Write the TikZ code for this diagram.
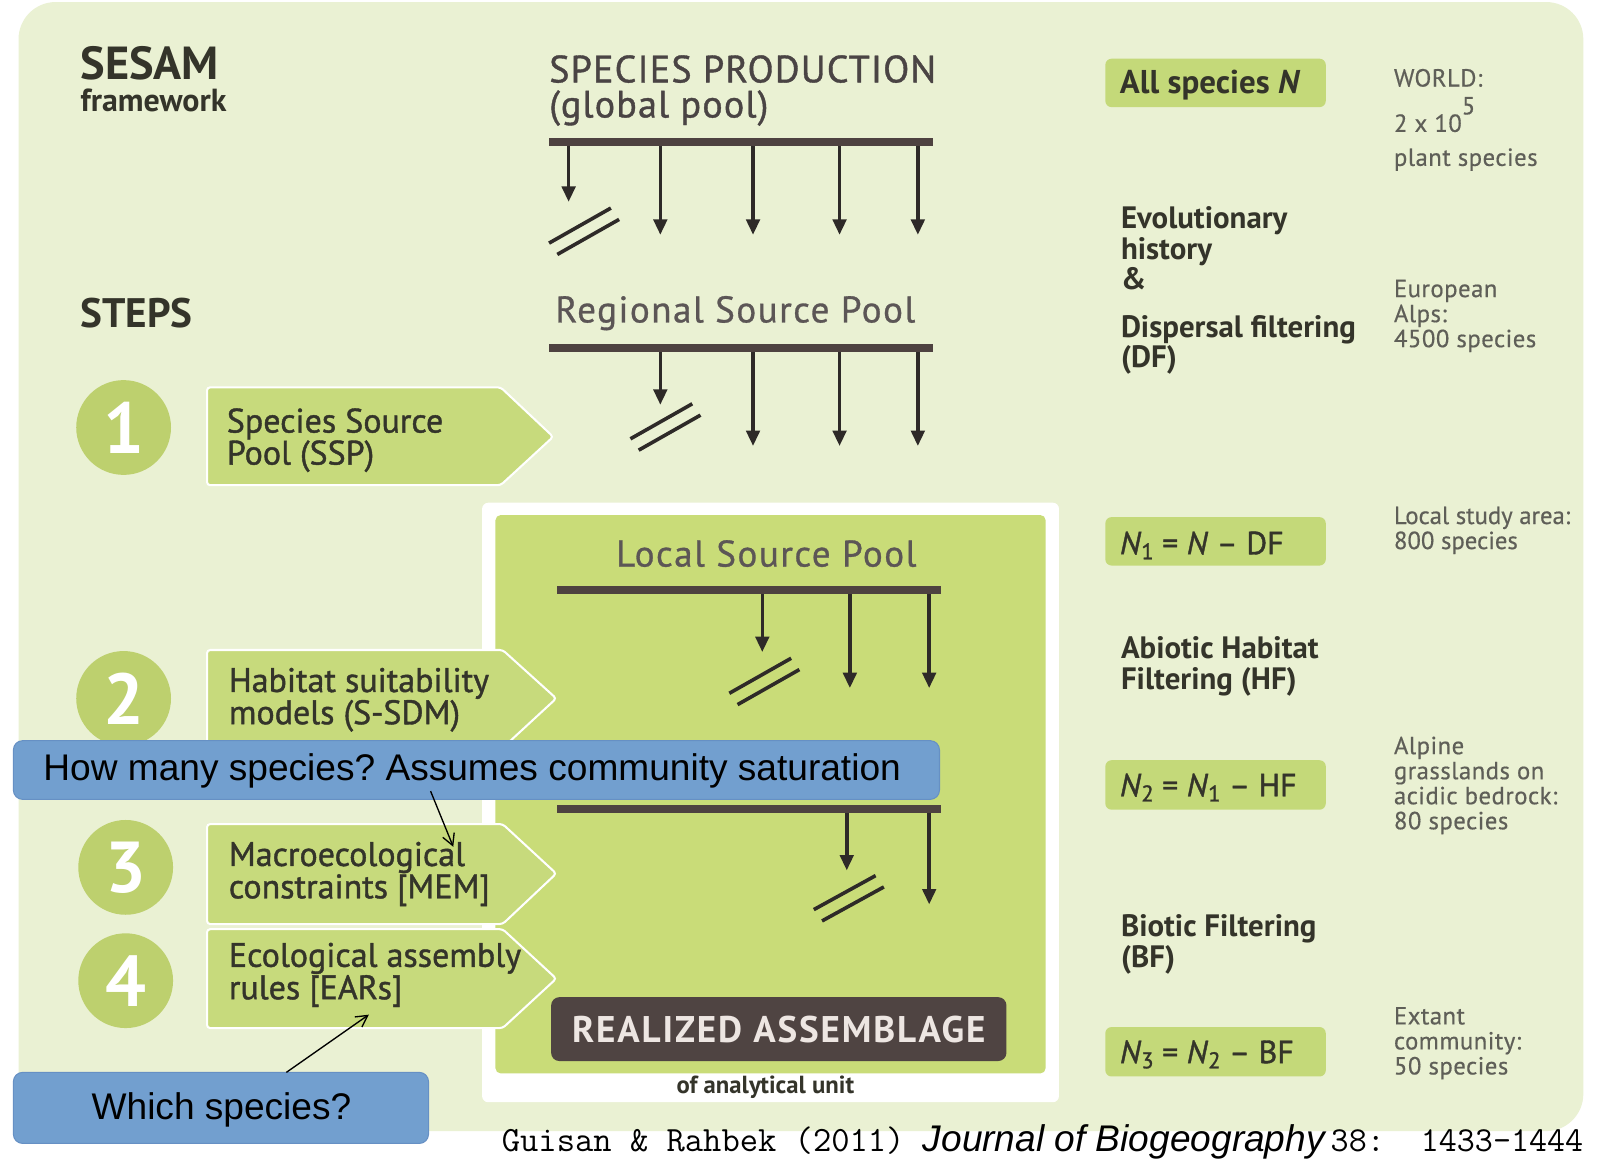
\documentclass[tikz,border=0pt]{standalone}
\usepackage{fontspec}
\setmainfont{PT Sans}
\newfontfamily\arialfont{Liberation Sans}
\usetikzlibrary{arrows.meta}
\definecolor{panelbg}{HTML}{EAF1D3}
\definecolor{arrowgreen}{HTML}{C7DA7C}
\definecolor{circgreen}{HTML}{BDD06E}
\definecolor{localgreen}{HTML}{C9DC78}
\definecolor{boxgreen}{HTML}{C4D979}
\definecolor{barcol}{HTML}{4E4240}
\definecolor{arrowblack}{HTML}{2E2A28}
\definecolor{txtdark}{HTML}{34342A}
\definecolor{hdrcol}{HTML}{4A4444}
\definecolor{poolcol}{HTML}{5C5656}
\definecolor{graytxt}{HTML}{5F5F58}
\definecolor{realcol}{HTML}{4F4442}
\definecolor{realtxt}{HTML}{EDE6E2}
\definecolor{bluebox}{HTML}{729FCF}
\definecolor{blueline}{HTML}{6690C4}
\frenchspacing
\begin{document}
\begin{tikzpicture}[x=1pt,y=-1pt,
  stepbox/.style={fill=arrowgreen, draw=white, line width=2pt, rounded corners=3pt},
  numcirc/.style={circle, fill=circgreen, minimum size=92pt, inner sep=0pt, text=white,
    font=\fontsize{70}{70}\selectfont\bfseries},
  steptext/.style={anchor=base west, align=left, inner sep=0pt, text=txtdark,
    font=\fontsize{33}{29}\selectfont\addfontfeatures{FakeBold=1.2}},
  hdr/.style={anchor=base west, inner sep=0pt, text=hdrcol,
    font=\fontsize{37}{37}\selectfont\addfontfeatures{LetterSpace=3,FakeBold=1}},
  pooltxt/.style={anchor=base west, inner sep=0pt, text=poolcol,
    font=\fontsize{36}{36}\selectfont\addfontfeatures{LetterSpace=4,FakeBold=0.8}},
  bar/.style={line width=8pt, draw=barcol},
  spec/.style={line width=3.5pt, draw=arrowblack, -{Triangle[width=13pt,length=15pt]}},
  slash/.style={line width=3.5pt, draw=arrowblack},
  rbold/.style={anchor=base west, align=left, inner sep=0pt, text=txtdark,
    font=\fontsize{30}{29.5}\selectfont\bfseries},
  gtxt/.style={anchor=base west, align=left, inner sep=0pt, text=graytxt,
    font=\fontsize{24}{24.3}\selectfont\addfontfeatures{LetterSpace=2,FakeBold=0.5}},
  gbox/.style={fill=boxgreen, rounded corners=6pt},
  eqtxt/.style={anchor=base west, inner sep=0pt, text=txtdark,
    font=\fontsize{31}{31}\selectfont\addfontfeatures{FakeBold=1.2}},
  bluerect/.style={fill=bluebox, draw=blueline, line width=1pt, rounded corners=9pt},
  bluetxt/.style={inner sep=0pt, text=black, font=\arialfont\fontsize{36}{36}\selectfont},
  note/.style={line width=1.3pt, draw=black, -{Straight Barb[length=11pt,width=12pt]}}
]
\useasboundingbox (0,0) rectangle (1560,1131);
\fill[white] (0,0) rectangle (1560,1131);
% main panel
\fill[panelbg, rounded corners=36pt] (18,2) rectangle (1537,1098);

% local frame
\fill[white, rounded corners=6pt] (468,488) rectangle (1028,1070);
\fill[localgreen, rounded corners=5pt] (481,500) rectangle (1015,1042);

% global pool
\coordinate (b1l) at (533,138); \coordinate (b1r) at (906,138);
\foreach \xx/\yy in {552/196, 641/228, 731/228, 815/228, 891/228}
  \draw[spec] (\xx,138) -- (\xx,\yy);
\draw[bar] (b1l) -- (b1r);
\draw[slash] (533,236) -- (593,202);
\draw[slash] (541,247) -- (601,213);

% regional pool
\coordinate (b2l) at (533,338); \coordinate (b2r) at (906,338);
\foreach \xx/\yy in {641/393, 731/433, 815/433, 891/433}
  \draw[spec] (\xx,338) -- (\xx,\yy);
\draw[bar] (b2l) -- (b2r);
\draw[slash] (612,426) -- (672,392);
\draw[slash] (620,437) -- (680,403);

% local pool
\coordinate (b3l) at (541,573); \coordinate (b3r) at (913,573);
\foreach \xx/\yy in {740/633, 825/668, 902/668}
  \draw[spec] (\xx,573) -- (\xx,\yy);
\draw[bar] (b3l) -- (b3r);
\draw[slash] (708,673) -- (768,639);
\draw[slash] (716,684) -- (776,650);

% fourth bar
\coordinate (b4l) at (541,785); \coordinate (b4r) at (913,785);
\foreach \xx/\yy in {822/845, 902/878}
  \draw[spec] (\xx,785) -- (\xx,\yy);
\draw[bar] (b4l) -- (b4r);
\draw[slash] (790,883) -- (850,850);
\draw[slash] (798,894) -- (858,861);

% realized assemblage
\node[fill=realcol, rounded corners=8pt, minimum width=442pt, minimum height=62pt, inner sep=0pt,
  text=realtxt, font=\fontsize{36}{36}\selectfont\bfseries\addfontfeatures{LetterSpace=5}]
  (real) at (756,999) {REALIZED ASSEMBLAGE};
\node[inner sep=0pt, text=txtdark, font=\fontsize{24}{24}\selectfont\bfseries] (anal) at (743,1055) {of analytical unit};

% step arrows
\draw[stepbox] (201,376) -- (486,376) -- (537,424) -- (486,471) -- (201,471) -- cycle;
\draw[stepbox] (201,631) -- (488,631) -- (540,678) -- (488,726) -- (201,726) -- cycle;
\draw[stepbox] (201,800) -- (488,800) -- (540,848) -- (488,897) -- (201,897) -- cycle;
\draw[stepbox] (201,902) -- (488,902) -- (540,950) -- (488,998) -- (201,998) -- cycle;

% circles
\node[numcirc] (c1) at (120,415) {1};
\node[numcirc] (c2) at (120,678) {2};
\node[numcirc] (c3) at (122,842) {3};
\node[numcirc] (c4) at (122,952) {4};

% step texts (anchor = last line baseline)
\node[steptext] (s1) at (220,451) {Species Source\\Pool (SSP)};
\node[steptext] (s2) at (222,703) {Habitat suitability\\models (S-SDM)};
\node[steptext] (s3) at (222,872) {Macroecological\\constraints [MEM]};
\node[steptext] (s4) at (222,970) {Ecological assembly\\rules [EARs]};

% titles
\node[anchor=base west, inner sep=0pt, text=txtdark, font=\fontsize{45}{45}\selectfont\bfseries] (sesam) at (78,77) {SESAM};
\node[anchor=base west, inner sep=0pt, text=txtdark, font=\fontsize{31}{31}\selectfont\bfseries] (fw) at (78,108) {framework};
\node[anchor=base west, inner sep=0pt, text=txtdark, font=\fontsize{40}{40}\selectfont\bfseries] (steps) at (78,318) {STEPS};

\node[hdr] (sp) at (533,80) {SPECIES PRODUCTION};
\node[hdr] (gp) at (533,114) {(global pool)};
\node[pooltxt] (rsp) at (539,313) {Regional Source Pool};
\node[pooltxt] (lsp) at (598,550) {Local Source Pool};

% right column boxes
\fill[gbox] (1073,57) rectangle (1287,104);
\fill[gbox] (1073,502) rectangle (1287,549);
\fill[gbox] (1073,738) rectangle (1287,786);
\fill[gbox] (1073,997) rectangle (1287,1045);
\node[eqtxt, font=\fontsize{32}{32}\selectfont\bfseries] (allN) at (1087,91) {All species \textit{N}};
\node[eqtxt] (n1) at (1087,538) {\textit{N}\raisebox{-5pt}{\fontsize{22}{22}\selectfont 1} = \textit{N} – DF};
\node[eqtxt] (n2) at (1087,773) {\textit{N}\raisebox{-5pt}{\fontsize{22}{22}\selectfont 2} = \textit{N}\raisebox{-5pt}{\fontsize{22}{22}\selectfont 1} – HF};
\node[eqtxt] (n3) at (1087,1032) {\textit{N}\raisebox{-5pt}{\fontsize{22}{22}\selectfont 3} = \textit{N}\raisebox{-5pt}{\fontsize{22}{22}\selectfont 2} – BF};

\node[rbold] (evo) at (1088,281) {Evolutionary\\history\\\&};
\node[rbold] (df) at (1088,357) {Dispersal filtering\\(DF)};
\node[rbold] (hf) at (1088,669) {Abiotic Habitat\\Filtering (HF)};
\node[rbold] (bf) at (1088,939) {Biotic Filtering\\(BF)};

\node[gtxt] (world) at (1353,84) {WORLD:};
\node[gtxt] (twoe5) at (1353,128) {2 x 10\raisebox{17pt}{5}};
\node[gtxt] (plant) at (1353,161) {plant species};
\node[gtxt] (eur) at (1353,337) {European\\Alps:\\4500 species};
\node[gtxt, font=\fontsize{24}{24.3}\selectfont\addfontfeatures{FakeBold=0.5}] (lsa) at (1353,533) {Local study area:\\800 species};
\node[gtxt] (alp) at (1353,805) {Alpine\\grasslands on\\acidic bedrock:\\80 species};
\node[gtxt] (ext) at (1353,1043) {Extant\\community:\\50 species};

% overlay boxes
\draw[bluerect] (13,719) rectangle (912,776);
\node[bluetxt, anchor=west] (q1) at (42,748) {How many species? Assumes community saturation};
\draw[bluerect] (13,1041) rectangle (416,1110);
\node[bluetxt] (q2) at (215,1077) {Which species?};
\coordinate (a1s) at (418,768); \coordinate (a1e) at (440,822);
\coordinate (a2s) at (278,1041); \coordinate (a2e) at (358,985);
\draw[note] (a1s) -- (a1e);
\draw[note] (a2s) -- (a2e);

% citation
\node[anchor=base west, inner sep=0pt, text=black] (cite) at (487,1118)
  {{\ttfamily\fontsize{34.5}{34.5}\selectfont Guisan \& Rahbek (2011) }{\arialfont\itshape\fontsize{36}{36}\selectfont Journal of Biogeography}{\ttfamily\fontsize{34}{34}\selectfont\,38:\ \ 1433-1444}};
\end{tikzpicture}
\end{document}
